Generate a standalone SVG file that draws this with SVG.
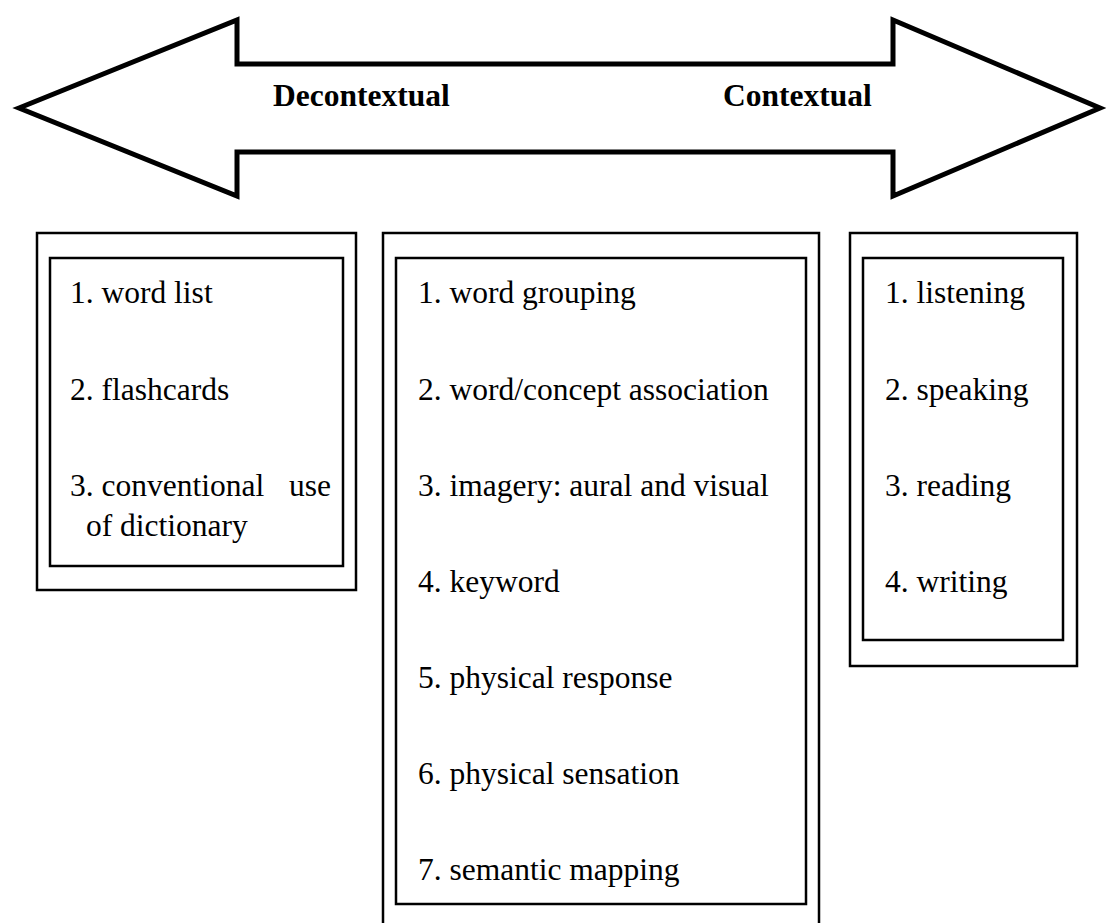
<svg xmlns="http://www.w3.org/2000/svg" width="1107" height="923" viewBox="0 0 1107 923">
<style>
.arrow{fill:#fff;stroke:#000;stroke-width:5;stroke-linejoin:miter;stroke-miterlimit:10}
.box{fill:#fff;stroke:#000;stroke-width:2.5}
text{font-family:"Times New Roman",Times,Tinos,"Liberation Serif","Nimbus Roman","Nimbus Roman No9 L","FreeSerif","Noto Serif","DejaVu Serif",serif;font-size:31.5px;fill:#000}
.b{font-weight:bold}
</style>
<rect width="1107" height="923" fill="#fff"/>
<g id="connectors">
<polygon id="double-arrow" class="arrow" points="19,108 237,20 237,64 893,64 893,20 1100,108 893,196 893,152 237,152 237,196"/>
<text class="b" x="273" y="106">Decontextual</text>
<text class="b" x="723" y="106">Contextual</text>
</g>
<g id="decontextual-box">
<rect class="box" x="37" y="233" width="319" height="357"/>
<rect class="box" x="50" y="258" width="293" height="308"/>
<text x="70" y="303">1. word list</text>
<text x="70" y="400">2. flashcards</text>
<text x="70" y="496">3. conventional</text>
<text x="331" y="496" text-anchor="end">use</text>
<text x="86" y="536">of dictionary</text>
</g>
<g id="middle-box">
<rect class="box" x="383" y="233" width="436" height="700"/>
<rect class="box" x="396" y="258" width="410" height="646"/>
<text x="418" y="303">1. word grouping</text>
<text x="418" y="400">2. word/concept association</text>
<text x="418" y="496">3. imagery: aural and visual</text>
<text x="418" y="592">4. keyword</text>
<text x="418" y="688">5. physical response</text>
<text x="418" y="784">6. physical sensation</text>
<text x="418" y="880">7. semantic mapping</text>
</g>
<g id="contextual-box">
<rect class="box" x="850" y="233" width="227" height="433"/>
<rect class="box" x="863" y="258" width="200" height="382"/>
<text x="885" y="303">1. listening</text>
<text x="885" y="400">2. speaking</text>
<text x="885" y="496">3. reading</text>
<text x="885" y="592">4. writing</text>
</g>
</svg>
